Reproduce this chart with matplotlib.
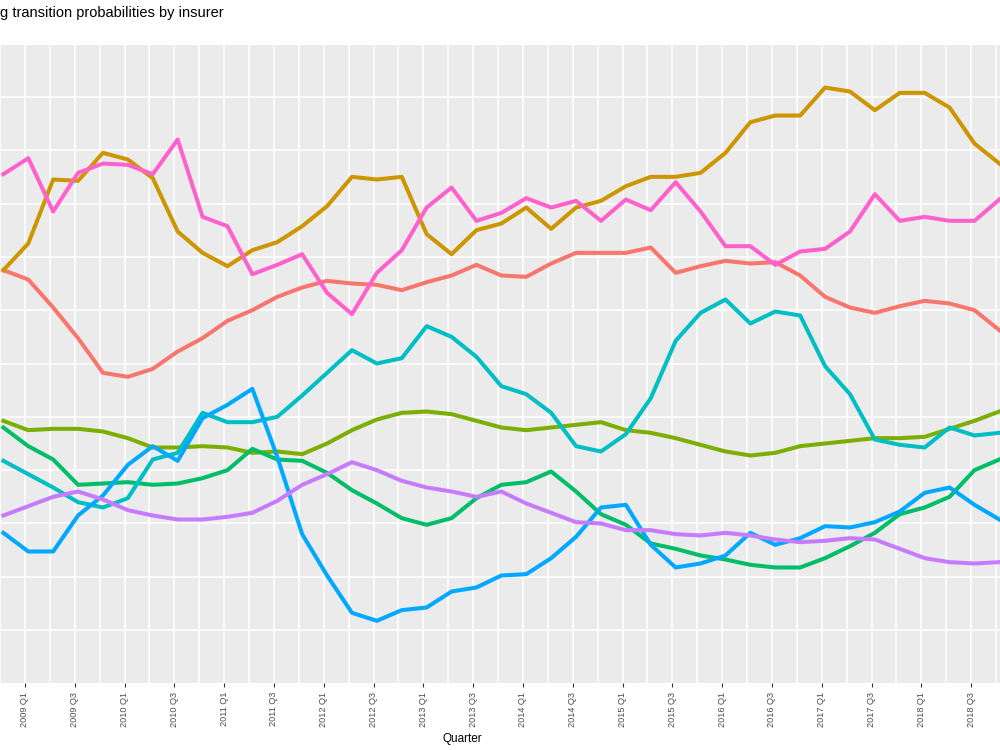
import numpy as np
import matplotlib
matplotlib.use('Agg')
import matplotlib.pyplot as plt

plt.rcParams['font.family'] = ['Liberation Sans', 'DejaVu Sans']

# quarters shown: 2008 Q4 .. 2018 Q4
quarters = ['2008 Q4'] + [f'{y} Q{q}' for y in range(2009, 2019) for q in range(1, 5)]

# transition probabilities per insurer
ins_a = [0.310, 0.303, 0.282, 0.259, 0.233, 0.230, 0.236, 0.249, 0.259, 0.272, 0.280, 0.290, 0.297, 0.302,
         0.300, 0.299, 0.295, 0.301, 0.306, 0.314, 0.306, 0.305, 0.315, 0.323, 0.323, 0.323, 0.327,
         0.308, 0.313, 0.317, 0.315, 0.316, 0.306, 0.290, 0.282, 0.278, 0.283, 0.287, 0.285, 0.280, 0.265]
ins_b = [0.310, 0.330, 0.378, 0.377, 0.398, 0.393, 0.379, 0.339, 0.323, 0.313, 0.325, 0.331, 0.343, 0.358,
         0.380, 0.378, 0.380, 0.337, 0.322, 0.340, 0.345, 0.357, 0.341, 0.357, 0.362, 0.373, 0.380,
         0.380, 0.383, 0.398, 0.421, 0.426, 0.426, 0.447, 0.444, 0.430, 0.443, 0.443, 0.432, 0.405, 0.390]
ins_c = [0.197, 0.190, 0.191, 0.191, 0.189, 0.184, 0.177, 0.177, 0.178, 0.177, 0.173, 0.174, 0.172, 0.180,
         0.190, 0.198, 0.203, 0.204, 0.202, 0.197, 0.192, 0.190, 0.192, 0.194, 0.196, 0.190, 0.188,
         0.184, 0.179, 0.174, 0.171, 0.173, 0.178, 0.180, 0.182, 0.184, 0.184, 0.185, 0.191, 0.197, 0.204]
ins_d = [0.192, 0.178, 0.168, 0.149, 0.150, 0.151, 0.149, 0.150, 0.154, 0.160, 0.176, 0.168, 0.167, 0.158,
         0.145, 0.135, 0.124, 0.119, 0.124, 0.139, 0.149, 0.151, 0.159, 0.144, 0.127, 0.119, 0.105,
         0.101, 0.096, 0.093, 0.089, 0.087, 0.087, 0.094, 0.103, 0.113, 0.127, 0.132, 0.140, 0.160, 0.168]
ins_e = [0.167, 0.157, 0.147, 0.136, 0.132, 0.139, 0.168, 0.173, 0.203, 0.196, 0.196, 0.200, 0.216, 0.233,
         0.250, 0.240, 0.244, 0.268, 0.260, 0.245, 0.223, 0.217, 0.203, 0.178, 0.174, 0.187, 0.214,
         0.257, 0.278, 0.288, 0.270, 0.279, 0.276, 0.238, 0.217, 0.183, 0.179, 0.177, 0.192, 0.186, 0.188]
ins_f = [0.113, 0.099, 0.099, 0.126, 0.141, 0.164, 0.178, 0.167, 0.199, 0.209, 0.221, 0.170, 0.112, 0.081,
         0.053, 0.047, 0.055, 0.057, 0.069, 0.072, 0.081, 0.082, 0.094, 0.110, 0.132, 0.134, 0.104,
         0.087, 0.090, 0.096, 0.113, 0.104, 0.109, 0.118, 0.117, 0.121, 0.129, 0.143, 0.147, 0.134, 0.123]
ins_g = [0.126, 0.133, 0.140, 0.144, 0.138, 0.130, 0.126, 0.123, 0.123, 0.125, 0.128, 0.137, 0.149, 0.157,
         0.166, 0.160, 0.152, 0.147, 0.144, 0.140, 0.144, 0.135, 0.128, 0.121, 0.120, 0.115, 0.115,
         0.112, 0.111, 0.113, 0.111, 0.108, 0.106, 0.107, 0.109, 0.108, 0.101, 0.094, 0.091, 0.090, 0.091]
ins_h = [0.382, 0.394, 0.354, 0.383, 0.390, 0.389, 0.382, 0.408, 0.350, 0.343, 0.307, 0.314, 0.322, 0.293,
         0.277, 0.308, 0.325, 0.357, 0.372, 0.347, 0.353, 0.364, 0.357, 0.362, 0.347, 0.363, 0.355,
         0.376, 0.354, 0.328, 0.328, 0.314, 0.324, 0.326, 0.339, 0.367, 0.347, 0.350, 0.347, 0.347, 0.363]

# ggplot default hue palette for 8 groups
colors = ['#F8766D', '#CD9600', '#7CAE00', '#00BE67', '#00BFC4', '#00A9FF', '#C77CFF', '#FF61CC']
series = [ins_a, ins_b, ins_c, ins_d, ins_e, ins_f, ins_g, ins_h]

x_shift = 0.135  # points sit a little right of the quarter gridlines
x = np.arange(len(quarters)) + x_shift

fig = plt.figure(figsize=(10, 7.5), dpi=100)
ax = fig.add_axes([0, 0.0887, 1, 0.8513])
ax.set_facecolor('#EBEBEB')

for vals, c in zip(series, colors):
    ax.plot(x, vals, color=c, lw=2.9, solid_joinstyle='round')

ax.set_xlim(0.064, 40.16)
ax.set_ylim(0, 0.4789)

ax.set_xticks(range(1, len(quarters), 2))
ax.set_xticklabels(quarters[1::2])
ax.set_xticks(range(0, len(quarters), 2), minor=True)
ax.set_yticks(np.arange(0.04, 0.45, 0.04))

ax.grid(True, which='both', color='white', lw=1.1)
ax.set_axisbelow(True)
for s in ax.spines.values():
    s.set_visible(False)

ax.tick_params(axis='x', which='major', length=2.6, width=0.8, color='#333333',
               labelsize=6.6, labelcolor='#4D4D4D', pad=3.5, labelrotation=90)
ax.tick_params(axis='x', which='minor', length=0)
ax.tick_params(axis='y', left=False, labelleft=False)

fig.text(0.0, 0.9773, 'g transition probabilities by insurer', fontsize=10.5,
         ha='left', va='baseline', color='black')
fig.text(0.462, 0.0113, 'Quarter', fontsize=8.5, ha='center', va='baseline', color='black')

fig.savefig('out.png', dpi=100)
